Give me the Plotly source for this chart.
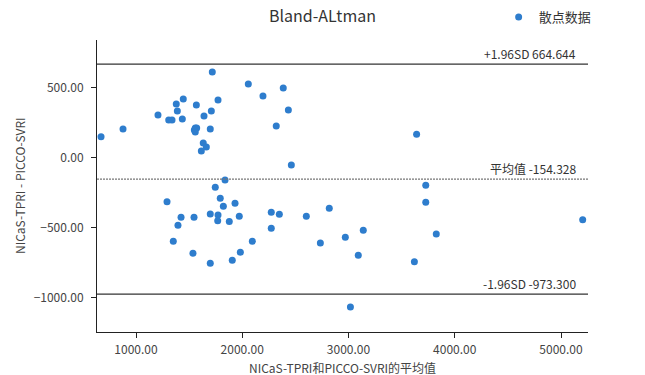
import plotly.graph_objects as go

# Data (mean of methods vs difference)
mean_vals = [671, 878, 1718, 2057, 2386, 2195, 1445, 1379, 1772, 1568, 2434, 1389, 1709,
             1207, 1640, 1308, 1339, 1436, 2320, 1558, 1571, 1558, 1549, 1699, 1633, 1662,
             1615, 2462, 1838, 1746, 1793, 1292, 1932, 1822, 1699, 1772, 2273, 2349, 1424,
             1546, 1769, 1878, 1972, 2603, 2819, 1395, 2273, 1351, 2095, 2735, 2970, 1536,
             1982, 1699, 1906, 3018, 3641, 3727, 3727, 5204, 3139, 3826, 3092, 3620]
diff_vals = [148, 203, 609, 523, 495, 438, 417, 381, 410, 374, 338, 331, 331,
             303, 296, 267, 267, 274, 224, 210, 210, 182, 196, 203, 103, 75,
             46, -53, -160, -212, -291, -315, -326, -348, -402, -410, -390, -405, -426,
             -426, -450, -455, -419, -419, -362, -483, -504, -597, -597, -609, -568, -682,
             -675, -754, -732, -1065, 165, -198, -319, -443, -519, -545, -697, -742]

upper_sd = 664.644
mean_diff = -154.328
lower_sd = -973.300

x_ticks = [1000, 2000, 3000, 4000, 5000]
y_ticks = [-1000, -500, 0, 500]

title_text = "Bland-ALtman"
series_name = "散点数据"
x_title = "NICaS-TPRI和PICCO-SVRI的平均值"
y_title = "NICaS-TPRI - PICCO-SVRI"

FONT = "Noto Sans CJK SC"

fig = go.Figure()
fig.add_trace(go.Scatter(
    x=mean_vals, y=diff_vals, mode="markers", name=series_name,
    marker=dict(color="#2e7dcd", size=7),
))

# reference lines
fig.add_shape(type="line", xref="paper", x0=0, x1=1, yref="y", y0=upper_sd, y1=upper_sd,
              line=dict(color="#333333", width=1.2))
fig.add_shape(type="line", xref="paper", x0=0, x1=1, yref="y", y0=lower_sd, y1=lower_sd,
              line=dict(color="#333333", width=1.2))
fig.add_shape(type="line", xref="paper", x0=0, x1=1, yref="y", y0=mean_diff, y1=mean_diff,
              line=dict(color="#777777", width=1.2, dash="2px,1px"))

for val, label in [(upper_sd, f"+1.96SD {upper_sd:.3f}"),
                   (mean_diff, f"平均值 {mean_diff:.3f}"),
                   (lower_sd, f"-1.96SD {lower_sd:.3f}")]:
    fig.add_annotation(xref="paper", x=1, yref="y", y=val, text=label, showarrow=False,
                       xanchor="right", yanchor="bottom", xshift=-10, yshift=0,
                       font=dict(family=FONT, size=12, color="#333333"))

# axis titles
fig.add_annotation(xref="paper", x=0.5, yref="paper", y=0, yshift=-35, text=x_title,
                   showarrow=False, xanchor="center", yanchor="middle",
                   font=dict(family=FONT, size=12, color="#444444"))
fig.add_annotation(xref="paper", x=0, xshift=-78, yref="paper", y=0.5, text=y_title,
                   showarrow=False, textangle=-90, xanchor="center", yanchor="middle",
                   font=dict(family=FONT, size=12, color="#444444"))

fig.update_layout(
    width=645, height=375,
    margin=dict(l=97, r=57, t=40, b=43, autoexpand=False),
    paper_bgcolor="white", plot_bgcolor="white",
    font=dict(family=FONT, size=12, color="#444444"),
    title=dict(text=title_text, x=0.5, xanchor="center", y=0.955, yanchor="middle",
               font=dict(family=FONT, size=16, color="#333333")),
    showlegend=True,
    legend=dict(x=0.818, y=1.079, xanchor="left", yanchor="middle", xref="paper", yref="paper",
                font=dict(family=FONT, size=13, color="#333333"), bgcolor="rgba(0,0,0,0)",
                itemwidth=30),
    xaxis=dict(range=[633, 5254], tickvals=x_ticks, tickformat=".2f", showgrid=False,
               zeroline=False, showline=True, linecolor="#222222", linewidth=1,
               ticks="outside", ticklen=5, tickcolor="#222222", automargin=False,
               ticklabelstandoff=2,
               tickfont=dict(family=FONT, size=12, color="#444444")),
    yaxis=dict(range=[-1243, 837], tickvals=y_ticks, tickformat=".2f", showgrid=False,
               zeroline=False, showline=True, linecolor="#222222", linewidth=1,
               ticks="outside", ticklen=5, tickcolor="#222222", automargin=False,
               ticklabelstandoff=5,
               tickfont=dict(family=FONT, size=12, color="#444444")),
)

fig.write_html("out.html")
